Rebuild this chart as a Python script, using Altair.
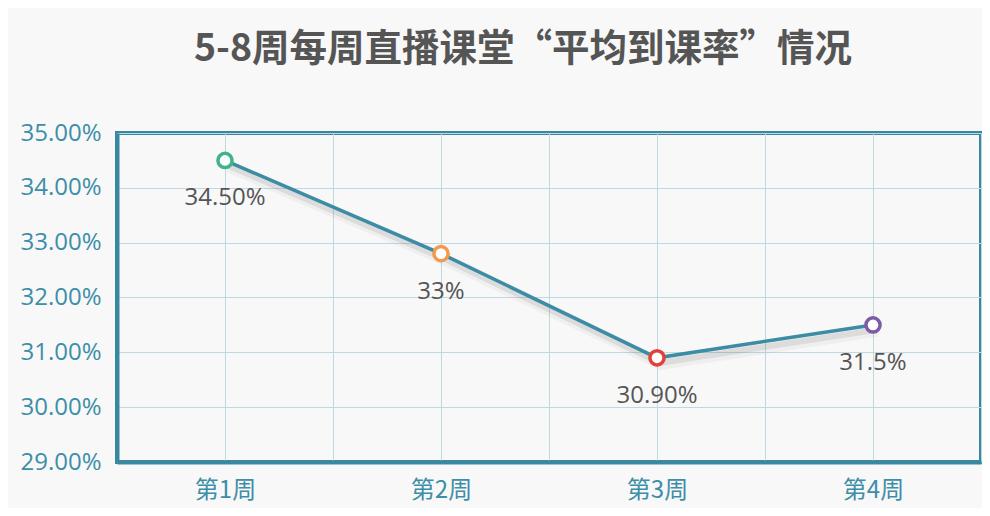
import json
import altair as alt
import pandas as pd

weeks = ["第1周", "第2周", "第3周", "第4周"]
rates = [0.345, 0.328, 0.309, 0.315]
labels = ["34.50%", "33%", "30.90%", "31.5%"]
colors = ["#3fb489", "#f2994b", "#e4403b", "#7d5ba6"]
title_text = "5-8周每周直播课堂“平均到课率”情况"

df = pd.DataFrame({
    "idx": list(range(1, len(weeks) + 1)),
    "week": weeks,
    "rate": rates,
    "label": labels,
    "color": colors,
})

label_expr = f"datum.value % 1 == 0 ? {json.dumps(weeks, ensure_ascii=False)}[datum.value - 1] : ''"

grid_color = "#bfd9e3"
axis_color = "#3d8ea8"
frame_color = "#3a87a0"

x = alt.X(
    "idx:Q",
    scale=alt.Scale(domain=[0.5, 4.5], nice=False, zero=False),
    axis=alt.Axis(
        values=[0.5, 1, 1.5, 2, 2.5, 3, 3.5, 4, 4.5],
        labelExpr=label_expr,
        title=None,
        grid=True,
        gridColor=grid_color,
        gridWidth=1,
        ticks=False,
        domain=True,
        domainColor=frame_color,
        domainWidth=4,
        labelFont="Noto Sans CJK SC",
        labelFontSize=24,
        labelColor=axis_color,
        labelPadding=16,
    ),
)
y = alt.Y(
    "rate:Q",
    scale=alt.Scale(domain=[0.29, 0.35], nice=False, zero=False),
    axis=alt.Axis(
        values=[0.29, 0.30, 0.31, 0.32, 0.33, 0.34, 0.35],
        format=".2%",
        title=None,
        grid=True,
        gridColor=grid_color,
        gridWidth=1,
        ticks=False,
        domain=True,
        domainColor=frame_color,
        domainWidth=4,
        labelFont="Open Sans",
        labelFontSize=24,
        labelColor=axis_color,
        labelPadding=16,
    ),
)

base = alt.Chart(df).encode(x=x, y=y)

shadow1 = base.mark_line(color="#555555", strokeWidth=12, opacity=0.05, xOffset=4, yOffset=6)
shadow2 = base.mark_line(color="#555555", strokeWidth=6, opacity=0.12, xOffset=3, yOffset=5)
line = base.mark_line(color="#3b8ca4", strokeWidth=3.5)
pts = base.mark_point(filled=True, fill="white", size=200, strokeWidth=3.5, opacity=1).encode(
    stroke=alt.Color("color:N", scale=None)
)
txt = base.mark_text(dy=38, fontSize=24, font="Open Sans", color="#555555").encode(text="label:N")

chart = (
    alt.layer(shadow1, shadow2, line, pts, txt)
    .properties(
        width=864,
        height=329,
        autosize=alt.AutoSizeParams(type="none"),
        padding={"left": 109, "top": 125, "right": 1, "bottom": 46},
        background="#f8f8f8",
        title=alt.TitleParams(
            title_text,
            font="Noto Sans CJK SC",
            fontSize=37.5,
            fontWeight="bold",
            color="#555555",
            anchor="middle",
            dx=-26,
            offset=53,
        ),
    )
    .configure_view(stroke=frame_color, strokeWidth=4)
)

chart.save("out.html", embed_options={"renderer": "svg", "actions": False})
